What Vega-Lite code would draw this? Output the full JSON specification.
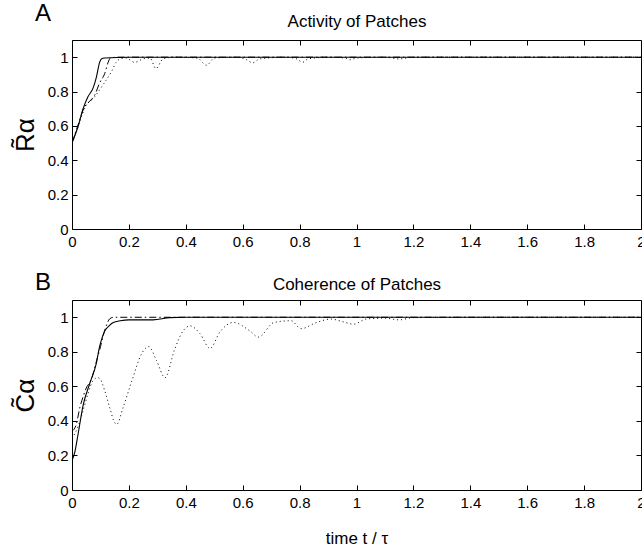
{
  "$schema": "https://vega.github.io/schema/vega-lite/v6.json",
  "background": "white",
  "padding": {"left": 11, "top": 1, "right": 0, "bottom": 0},
  "spacing": 20,
  "config": {
    "font": "Liberation Sans",
    "view": {"stroke": "black", "strokeWidth": 1},
    "axis": {
      "grid": false,
      "domain": false,
      "tickColor": "black",
      "tickSize": -5,
      "labelColor": "black",
      "labelFontSize": 15,
      "labelFont": "Liberation Sans",
      "titleFont": "Liberation Sans",
      "titleColor": "black",
      "titleFontWeight": "normal"
    },
    "title": {"font": "Liberation Sans", "fontWeight": "normal", "color": "black"}
  },
  "datasets": {
    "top": [
      {"t": 0, "v": 0.5, "s": "solid"},
      {"t": 0.004, "v": 0.517, "s": "solid"},
      {"t": 0.021, "v": 0.595, "s": "solid"},
      {"t": 0.039, "v": 0.7, "s": "solid"},
      {"t": 0.056, "v": 0.77, "s": "solid"},
      {"t": 0.074, "v": 0.82, "s": "solid"},
      {"t": 0.086, "v": 0.886, "s": "solid"},
      {"t": 0.097, "v": 0.97, "s": "solid"},
      {"t": 0.103, "v": 0.99, "s": "solid"},
      {"t": 0.115, "v": 0.995, "s": "solid"},
      {"t": 0.2, "v": 1.0, "s": "solid"},
      {"t": 1.0, "v": 1.0, "s": "solid"},
      {"t": 2.0, "v": 1.0, "s": "solid"},
      {"t": 0, "v": 0.5, "s": "dashdot"},
      {"t": 0.02, "v": 0.6, "s": "dashdot"},
      {"t": 0.044, "v": 0.71, "s": "dashdot"},
      {"t": 0.06, "v": 0.74, "s": "dashdot"},
      {"t": 0.08, "v": 0.78, "s": "dashdot"},
      {"t": 0.097, "v": 0.85, "s": "dashdot"},
      {"t": 0.115, "v": 0.905, "s": "dashdot"},
      {"t": 0.127, "v": 0.97, "s": "dashdot"},
      {"t": 0.135, "v": 0.995, "s": "dashdot"},
      {"t": 0.16, "v": 1.0, "s": "dashdot"},
      {"t": 1.0, "v": 1.0, "s": "dashdot"},
      {"t": 2.0, "v": 1.0, "s": "dashdot"},
      {"t": 0, "v": 0.5, "s": "dotted"},
      {"t": 0.02, "v": 0.59, "s": "dotted"},
      {"t": 0.05, "v": 0.72, "s": "dotted"},
      {"t": 0.075, "v": 0.76, "s": "dotted"},
      {"t": 0.097, "v": 0.81, "s": "dotted"},
      {"t": 0.12, "v": 0.866, "s": "dotted"},
      {"t": 0.14, "v": 0.92, "s": "dotted"},
      {"t": 0.155, "v": 0.97, "s": "dotted"},
      {"t": 0.17, "v": 0.99, "s": "dotted"},
      {"t": 0.19, "v": 0.995, "s": "dotted"},
      {"t": 0.22, "v": 0.97, "s": "dotted"},
      {"t": 0.25, "v": 0.99, "s": "dotted"},
      {"t": 0.274, "v": 0.995, "s": "dotted"},
      {"t": 0.295, "v": 0.934, "s": "dotted"},
      {"t": 0.32, "v": 0.99, "s": "dotted"},
      {"t": 0.36, "v": 1.0, "s": "dotted"},
      {"t": 0.44, "v": 0.995, "s": "dotted"},
      {"t": 0.473, "v": 0.953, "s": "dotted"},
      {"t": 0.5, "v": 0.995, "s": "dotted"},
      {"t": 0.58, "v": 1.0, "s": "dotted"},
      {"t": 0.614, "v": 0.985, "s": "dotted"},
      {"t": 0.635, "v": 0.967, "s": "dotted"},
      {"t": 0.66, "v": 0.99, "s": "dotted"},
      {"t": 0.75, "v": 1.0, "s": "dotted"},
      {"t": 0.79, "v": 0.99, "s": "dotted"},
      {"t": 0.81, "v": 0.97, "s": "dotted"},
      {"t": 0.83, "v": 0.99, "s": "dotted"},
      {"t": 0.9, "v": 1.0, "s": "dotted"},
      {"t": 0.96, "v": 0.995, "s": "dotted"},
      {"t": 0.977, "v": 0.985, "s": "dotted"},
      {"t": 1.0, "v": 0.995, "s": "dotted"},
      {"t": 1.1, "v": 1.0, "s": "dotted"},
      {"t": 1.15, "v": 0.99, "s": "dotted"},
      {"t": 1.2, "v": 1.0, "s": "dotted"},
      {"t": 1.5, "v": 1.0, "s": "dotted"},
      {"t": 2.0, "v": 1.0, "s": "dotted"}
    ],
    "bottom": [
      {"t": 0, "v": 0.17, "s": "solid"},
      {"t": 0.01, "v": 0.22, "s": "solid"},
      {"t": 0.021, "v": 0.32, "s": "solid"},
      {"t": 0.039, "v": 0.49, "s": "solid"},
      {"t": 0.062, "v": 0.615, "s": "solid"},
      {"t": 0.085, "v": 0.73, "s": "solid"},
      {"t": 0.097, "v": 0.83, "s": "solid"},
      {"t": 0.103, "v": 0.866, "s": "solid"},
      {"t": 0.115, "v": 0.92, "s": "solid"},
      {"t": 0.13, "v": 0.95, "s": "solid"},
      {"t": 0.145, "v": 0.97, "s": "solid"},
      {"t": 0.17, "v": 0.98, "s": "solid"},
      {"t": 0.2, "v": 0.985, "s": "solid"},
      {"t": 0.285, "v": 0.985, "s": "solid"},
      {"t": 0.344, "v": 0.998, "s": "solid"},
      {"t": 0.4, "v": 1.0, "s": "solid"},
      {"t": 2.0, "v": 1.0, "s": "solid"},
      {"t": 0, "v": 0.34, "s": "dashdot"},
      {"t": 0.015, "v": 0.38, "s": "dashdot"},
      {"t": 0.028, "v": 0.48, "s": "dashdot"},
      {"t": 0.039, "v": 0.54, "s": "dashdot"},
      {"t": 0.05, "v": 0.59, "s": "dashdot"},
      {"t": 0.068, "v": 0.64, "s": "dashdot"},
      {"t": 0.085, "v": 0.74, "s": "dashdot"},
      {"t": 0.097, "v": 0.81, "s": "dashdot"},
      {"t": 0.115, "v": 0.924, "s": "dashdot"},
      {"t": 0.132, "v": 0.99, "s": "dashdot"},
      {"t": 0.145, "v": 1.0, "s": "dashdot"},
      {"t": 2.0, "v": 1.0, "s": "dashdot"},
      {"t": 0, "v": 0.3, "s": "dotted"},
      {"t": 0.022, "v": 0.37, "s": "dotted"},
      {"t": 0.039, "v": 0.46, "s": "dotted"},
      {"t": 0.056, "v": 0.556, "s": "dotted"},
      {"t": 0.074, "v": 0.634, "s": "dotted"},
      {"t": 0.09, "v": 0.65, "s": "dotted"},
      {"t": 0.1, "v": 0.64, "s": "dotted"},
      {"t": 0.115, "v": 0.575, "s": "dotted"},
      {"t": 0.132, "v": 0.48, "s": "dotted"},
      {"t": 0.15, "v": 0.39, "s": "dotted"},
      {"t": 0.157, "v": 0.38, "s": "dotted"},
      {"t": 0.18, "v": 0.48, "s": "dotted"},
      {"t": 0.21, "v": 0.63, "s": "dotted"},
      {"t": 0.245, "v": 0.79, "s": "dotted"},
      {"t": 0.27, "v": 0.83, "s": "dotted"},
      {"t": 0.297, "v": 0.75, "s": "dotted"},
      {"t": 0.327, "v": 0.65, "s": "dotted"},
      {"t": 0.36, "v": 0.81, "s": "dotted"},
      {"t": 0.39, "v": 0.92, "s": "dotted"},
      {"t": 0.415, "v": 0.95, "s": "dotted"},
      {"t": 0.45, "v": 0.905, "s": "dotted"},
      {"t": 0.485, "v": 0.82, "s": "dotted"},
      {"t": 0.52, "v": 0.915, "s": "dotted"},
      {"t": 0.567, "v": 0.97, "s": "dotted"},
      {"t": 0.626, "v": 0.92, "s": "dotted"},
      {"t": 0.655, "v": 0.885, "s": "dotted"},
      {"t": 0.71, "v": 0.97, "s": "dotted"},
      {"t": 0.77, "v": 0.98, "s": "dotted"},
      {"t": 0.805, "v": 0.934, "s": "dotted"},
      {"t": 0.86, "v": 0.97, "s": "dotted"},
      {"t": 0.91, "v": 0.99, "s": "dotted"},
      {"t": 0.95, "v": 0.975, "s": "dotted"},
      {"t": 0.99, "v": 0.96, "s": "dotted"},
      {"t": 1.035, "v": 0.99, "s": "dotted"},
      {"t": 1.1, "v": 0.995, "s": "dotted"},
      {"t": 1.15, "v": 0.985, "s": "dotted"},
      {"t": 1.2, "v": 0.998, "s": "dotted"},
      {"t": 1.5, "v": 1.0, "s": "dotted"},
      {"t": 2.0, "v": 1.0, "s": "dotted"}
    ]
  },
  "vconcat": [
    {
      "width": 569,
      "height": 189,
      "title": {"text": "A", "anchor": "start", "frame": "group", "dx": -37, "fontSize": 24, "offset": -13},
      "data": {"name": "top"},
      "resolve": {"scale": {"x": "independent", "y": "independent"}},
      "layer": [
        {
          "transform": [{"filter": "datum.s == 'solid'"}],
          "mark": {"type": "line", "interpolate": "monotone", "strokeWidth": 1.1, "color": "black", "clip": true},
          "encoding": {
            "x": {"field": "t", "type": "quantitative", "scale": {"domain": [0, 2], "nice": false},
                  "axis": {"orient": "bottom", "values": [0, 0.2, 0.4, 0.6, 0.8, 1, 1.2, 1.4, 1.6, 1.8, 2], "format": "~g", "labelPadding": 10, "title": null, "labelFlush": false}},
            "y": {"field": "v", "type": "quantitative", "scale": {"domain": [0, 1.1], "nice": false},
                  "axis": {"orient": "left", "values": [0, 0.2, 0.4, 0.6, 0.8, 1], "format": "~g", "labelPadding": 9, "title": "R̃α", "titleFontSize": 26, "titlePadding": 9}}
          }
        },
        {
          "transform": [{"filter": "datum.s != 'solid'"}],
          "mark": {"type": "line", "interpolate": "monotone", "strokeWidth": 1, "color": "black", "clip": true},
          "encoding": {
            "x": {"field": "t", "type": "quantitative", "scale": {"domain": [0, 2], "nice": false},
                  "axis": {"orient": "top", "values": [0, 0.2, 0.4, 0.6, 0.8, 1, 1.2, 1.4, 1.6, 1.8, 2], "labels": false, "title": "Activity of Patches", "titleFontSize": 17, "titlePadding": 9}},
            "y": {"field": "v", "type": "quantitative", "scale": {"domain": [0, 1.1], "nice": false},
                  "axis": {"orient": "right", "values": [0, 0.2, 0.4, 0.6, 0.8, 1], "labels": false, "title": null}},
            "strokeDash": {"field": "s", "type": "nominal", "scale": {"domain": ["dashdot", "dotted"], "range": [[7, 3, 1.5, 3], [1, 3]]}, "legend": null}
          }
        }
      ]
    },
    {
      "width": 569,
      "height": 190,
      "title": {"text": "B", "anchor": "start", "frame": "group", "dx": -37, "fontSize": 24, "offset": -19},
      "data": {"name": "bottom"},
      "resolve": {"scale": {"x": "independent", "y": "independent"}},
      "layer": [
        {
          "transform": [{"filter": "datum.s == 'solid'"}],
          "mark": {"type": "line", "interpolate": "monotone", "strokeWidth": 1.1, "color": "black", "clip": true},
          "encoding": {
            "x": {"field": "t", "type": "quantitative", "scale": {"domain": [0, 2], "nice": false},
                  "axis": {"orient": "bottom", "values": [0, 0.2, 0.4, 0.6, 0.8, 1, 1.2, 1.4, 1.6, 1.8, 2], "format": "~g", "labelPadding": 10, "title": "time t / τ", "titleFontSize": 17, "titlePadding": 20, "labelFlush": false}},
            "y": {"field": "v", "type": "quantitative", "scale": {"domain": [0, 1.1], "nice": false},
                  "axis": {"orient": "left", "values": [0, 0.2, 0.4, 0.6, 0.8, 1], "format": "~g", "labelPadding": 9, "title": "C̃α", "titleFontSize": 26, "titlePadding": 9}}
          }
        },
        {
          "transform": [{"filter": "datum.s != 'solid'"}],
          "mark": {"type": "line", "interpolate": "monotone", "strokeWidth": 1, "color": "black", "clip": true},
          "encoding": {
            "x": {"field": "t", "type": "quantitative", "scale": {"domain": [0, 2], "nice": false},
                  "axis": {"orient": "top", "values": [0, 0.2, 0.4, 0.6, 0.8, 1, 1.2, 1.4, 1.6, 1.8, 2], "labels": false, "title": "Coherence of Patches", "titleFontSize": 17, "titlePadding": 6}},
            "y": {"field": "v", "type": "quantitative", "scale": {"domain": [0, 1.1], "nice": false},
                  "axis": {"orient": "right", "values": [0, 0.2, 0.4, 0.6, 0.8, 1], "labels": false, "title": null}},
            "strokeDash": {"field": "s", "type": "nominal", "scale": {"domain": ["dashdot", "dotted"], "range": [[7, 3, 1.5, 3], [1, 3]]}, "legend": null}
          }
        }
      ]
    }
  ]
}
